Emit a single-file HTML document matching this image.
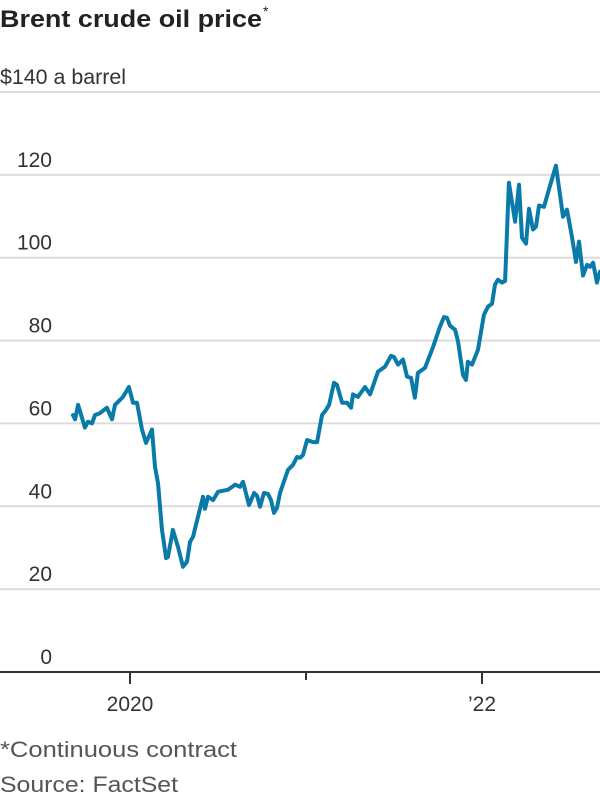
<!DOCTYPE html>
<html><head><meta charset="utf-8"><style>
html,body{margin:0;padding:0;background:#fff;}
svg{display:block;font-family:"Liberation Sans",sans-serif;}
</style></head><body>
<svg width="600" height="800" viewBox="0 0 600 800">
<text x="0" y="27" font-size="24" font-weight="bold" fill="#222" textLength="262" lengthAdjust="spacingAndGlyphs">Brent crude oil price</text>
<text x="263" y="16" font-size="14" fill="#222">*</text>
<g id="grid"></g>
<g id="ylabels"></g>
<g id="xaxis"></g>
<path id="line" fill="none" stroke="#0a7aa8" stroke-width="4" stroke-linejoin="round" stroke-linecap="round"></path>
<text x="0" y="757" font-size="22" fill="#555" textLength="237" lengthAdjust="spacingAndGlyphs">*Continuous contract</text>
<text x="0" y="792" font-size="22" fill="#555" textLength="178" lengthAdjust="spacingAndGlyphs">Source: FactSet</text>
</svg>
<script>
const yTicks=[0,20,40,60,80,100,120,140];
const yTickLabels=["0","20","40","60","80","100","120","$140 a barrel"];
const xTicks=[2020,2021,2022];
const xTickLabels=["2020","","\u201922"];
const dates=[2019.676,2019.688,2019.705,2019.744,2019.761,2019.784,2019.801,2019.830,2019.869,2019.898,2019.915,2019.960,2019.994,2020.017,2020.040,2020.068,2020.091,2020.125,2020.142,2020.159,2020.182,2020.205,2020.216,2020.244,2020.273,2020.301,2020.324,2020.341,2020.358,2020.386,2020.415,2020.426,2020.443,2020.472,2020.500,2020.557,2020.597,2020.625,2020.642,2020.676,2020.705,2020.722,2020.739,2020.761,2020.784,2020.801,2020.818,2020.835,2020.852,2020.881,2020.898,2020.926,2020.949,2020.966,2020.983,2021.006,2021.040,2021.063,2021.091,2021.114,2021.131,2021.159,2021.176,2021.205,2021.233,2021.256,2021.267,2021.295,2021.335,2021.364,2021.409,2021.449,2021.483,2021.500,2021.523,2021.551,2021.574,2021.597,2021.619,2021.636,2021.676,2021.722,2021.761,2021.784,2021.801,2021.818,2021.847,2021.864,2021.892,2021.909,2021.920,2021.943,2021.977,2022.011,2022.034,2022.057,2022.074,2022.091,2022.114,2022.131,2022.153,2022.188,2022.210,2022.227,2022.250,2022.267,2022.290,2022.307,2022.324,2022.352,2022.375,2022.420,2022.449,2022.460,2022.483,2022.511,2022.534,2022.551,2022.574,2022.597,2022.614,2022.631,2022.653,2022.670];
const prices=[62,61,64.5,59,60.4,60,62,62.5,63.8,61,64.5,66.4,68.8,65,65,58.5,55.3,58.5,49.5,45.6,34.3,27.5,27.8,34.3,30.2,25.4,26.6,31.4,32.6,37.4,42.3,39.4,42.3,41.5,43.5,44,45.2,44.7,45.9,40.3,43.2,42.5,39.9,43.2,43,41.5,38.4,39.6,43.2,46.8,48.8,50,51.9,51.7,52.4,56,55.5,55.5,62,63.3,64.5,69.8,69.3,65,65,63.8,67,66.4,68.8,67,72.5,73.7,76.3,76,74.2,75.4,71.3,71,66.2,72.2,73.4,78.5,83.3,85.7,85.5,83.6,82.6,79.7,71.7,70.5,74.9,74.2,77.8,86.2,88.2,88.9,93.5,94.7,94,94.4,118.1,108.7,117.6,104.8,103.4,111.8,106.8,107.5,112.6,112.3,115.7,122.2,113.5,109.9,111.6,105.1,99,103.9,95.7,98.3,97.8,98.8,94,96.6];
const NS="http://www.w3.org/2000/svg";
const yScale=v=>672-v*(580/140);
const xScale=t=>130+(t-2020)*176;
const grid=document.getElementById('grid'),yl=document.getElementById('ylabels'),xa=document.getElementById('xaxis');
yTicks.forEach((v,i)=>{
  if(v>0){const l=document.createElementNS(NS,'line');
  
  
  l.setAttribute('x1',0);l.setAttribute('x2',600);l.setAttribute('y1',yScale(v));l.setAttribute('y2',yScale(v));
  l.setAttribute('stroke','#dcdcdc');l.setAttribute('stroke-width','2');grid.appendChild(l);}
  const t=document.createElementNS(NS,'text');
  
  
  const last=i===yTicks.length-1;
  t.setAttribute('x',last?0:52);t.setAttribute('y',yScale(v)-8);
  t.setAttribute('text-anchor',last?'start':'end');
  t.setAttribute('font-size','21');t.setAttribute('fill','#333');
  if(last){t.setAttribute('textLength','126');t.setAttribute('lengthAdjust','spacingAndGlyphs');}
  t.textContent=yTickLabels[i];yl.appendChild(t);
});
const base=document.createElementNS(NS,'line');


base.setAttribute('x1',0);base.setAttribute('x2',600);base.setAttribute('y1',672);base.setAttribute('y2',672);
base.setAttribute('stroke','#333');base.setAttribute('stroke-width','2');xa.appendChild(base);
xTicks.forEach((v,i)=>{
  const l=document.createElementNS(NS,'line');
  
  
  l.setAttribute('x1',xScale(v));l.setAttribute('x2',xScale(v));l.setAttribute('y1',672);l.setAttribute('y2',i===1?680:684);
  l.setAttribute('stroke','#333');l.setAttribute('stroke-width','2');xa.appendChild(l);
  const t=document.createElementNS(NS,'text');
  
  
  t.setAttribute('x',xScale(v));t.setAttribute('y',711);t.setAttribute('text-anchor','middle');
  t.setAttribute('font-size','21');t.setAttribute('fill','#333');
  t.textContent=xTickLabels[i];xa.appendChild(t);
});
document.getElementById('line').setAttribute('d',dates.map((d,i)=>(i?'L':'M')+xScale(d).toFixed(1)+' '+yScale(prices[i]).toFixed(1)).join(' '));
</script>
</body></html>
